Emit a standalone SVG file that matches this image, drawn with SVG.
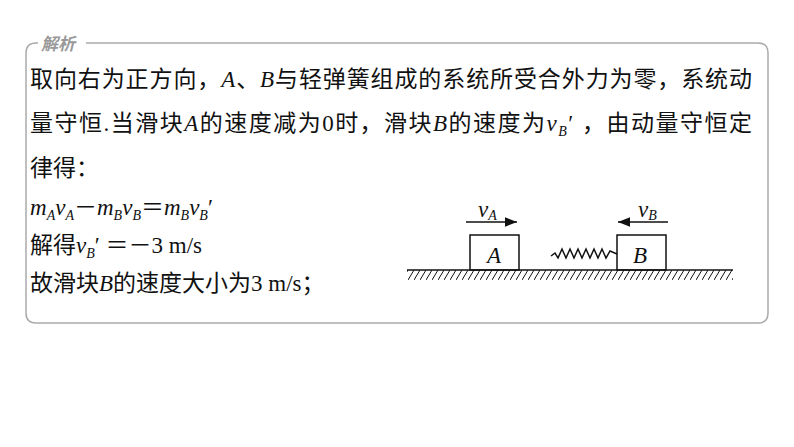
<svg xmlns="http://www.w3.org/2000/svg" width="794" height="447" viewBox="0 0 794 447">
<style>
.t{font-family:"Liberation Serif","Noto Sans CJK SC",serif;font-size:23px;fill:#111}
.i{font-style:italic}
.s{font-size:14px}
.ln{stroke:#111;stroke-width:1.5;fill:none}
</style>
<defs>
<marker id="ah" viewBox="0 0 10 10" refX="10" refY="5" markerWidth="8" markerHeight="8" orient="auto"><path d="M0,1 L10,5 L0,9 z" fill="#111"/></marker>
<pattern id="hatch" width="6" height="10" patternUnits="userSpaceOnUse"><path d="M6,0 L0,10" stroke="#111" stroke-width="1"/></pattern>
</defs>
<rect width="794" height="447" fill="#fff"/>
<g id="frame">
<path d="M86,43 H758 Q768,43 768,53 V313 Q768,323 758,323 H36 Q26,323 26,313 V53 Q26,43 36,43 H38" fill="none" stroke="#aaa" stroke-width="1.5"/>
<text x="41" y="50" font-family="'Noto Sans CJK SC',sans-serif" font-size="17" font-weight="bold" font-style="italic" fill="#999">解析</text>
</g>
<g id="text" class="t">
<text x="30" y="87" textLength="722" lengthAdjust="spacing">取向右为正方向，<tspan class="i">A</tspan>、<tspan class="i">B</tspan>与轻弹簧组成的系统所受合外力为零，系统动</text>
<text x="30" y="131" textLength="722" lengthAdjust="spacing">量守恒.当滑块<tspan class="i">A</tspan>的速度减为0时，滑块<tspan class="i">B</tspan>的速度为<tspan class="i">v</tspan><tspan class="i s" dy="5">B</tspan><tspan dy="-5">′  ，由动量守恒定</tspan></text>
<text x="30" y="176">律得：</text>
<text x="30" y="215"><tspan class="i">m</tspan><tspan class="i s" dy="5">A</tspan><tspan class="i" dy="-5">v</tspan><tspan class="i s" dy="5">A</tspan><tspan dy="-5">－</tspan><tspan class="i">m</tspan><tspan class="i s" dy="5">B</tspan><tspan class="i" dy="-5">v</tspan><tspan class="i s" dy="5">B</tspan><tspan dy="-5">＝</tspan><tspan class="i">m</tspan><tspan class="i s" dy="5">B</tspan><tspan class="i" dy="-5">v</tspan><tspan class="i s" dy="5">B</tspan><tspan dy="-5">′</tspan></text>
<text x="30" y="253">解得<tspan class="i">v</tspan><tspan class="i s" dy="5">B</tspan><tspan dy="-5">′  ＝－3 m/s</tspan></text>
<text x="30" y="291">故滑块<tspan class="i">B</tspan>的速度大小为3 m/s；</text>
</g>
<g id="ground">
<rect x="407" y="270" width="326" height="10" fill="url(#hatch)"/>
<line x1="407" y1="270" x2="733" y2="270" class="ln"/>
</g>
<g id="blockA">
<rect x="470" y="235" width="49" height="35" class="ln"/>
<text x="487" y="263" class="t i">A</text>
</g>
<g id="blockB">
<rect x="617" y="235" width="49" height="35" class="ln"/>
<text x="633" y="263" class="t i">B</text>
</g>
<g id="connectors">
<path d="M551,256 L555,253 L558,258 L562,249 L566,258 L570,249 L574,258 L578,249 L582,258 L586,249 L590,258 L594,249 L598,258 L602,249 L606,258 L610,251 L617,254" class="ln" stroke-width="1"/>
<line x1="466" y1="222" x2="517" y2="222" class="ln" stroke-width="1" marker-end="url(#ah)"/>
<line x1="668" y1="222" x2="618" y2="222" class="ln" stroke-width="1" marker-end="url(#ah)"/>
</g>
<g id="labels" class="t">
<text x="478" y="217" class="i">v<tspan class="s" dy="3">A</tspan></text>
<text x="638" y="217" class="i">v<tspan class="s" dy="3">B</tspan></text>
</g>
</svg>
